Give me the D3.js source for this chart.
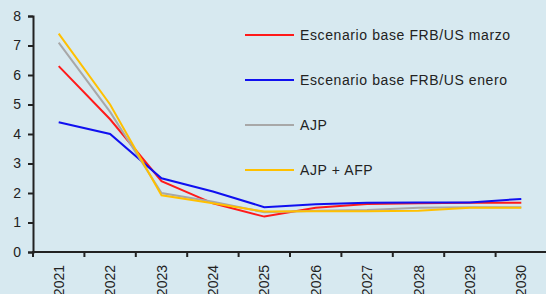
<!DOCTYPE html>
<html>
<head>
<meta charset="utf-8">
<script src="https://cdn.jsdelivr.net/npm/d3@7"></script>
<style>
  html, body { margin: 0; padding: 0; background: #d7e9f0; }
  svg { display: block; }
  text { font-family: "Liberation Sans", Arial, sans-serif; fill: #222; }
</style>
</head>
<body>
<div id="chart"></div>
<script>
  // years on the category axis
  const years = ["2021","2022","2023","2024","2025","2026","2027","2028","2029","2030"];

  // series values
  const frbMarzo = [6.3, 4.5, 2.4, 1.65, 1.2, 1.5, 1.63, 1.65, 1.67, 1.67];
  const frbEnero = [4.4, 4.0, 2.5, 2.05, 1.52, 1.62, 1.67, 1.68, 1.68, 1.8];
  const ajp      = [7.1, 4.75, 2.0, 1.7, 1.35, 1.4, 1.42, 1.5, 1.52, 1.52];
  const ajpAfp   = [7.4, 5.0, 1.92, 1.65, 1.37, 1.38, 1.38, 1.4, 1.5, 1.5];

  const yTicks = [0, 1, 2, 3, 4, 5, 6, 7, 8];

  const series = [
    {name: "Escenario base FRB/US marzo", values: frbMarzo, color: "#ff1a1a"},
    {name: "Escenario base FRB/US enero", values: frbEnero, color: "#1010f0"},
    {name: "AJP", values: ajp, color: "#a8a8a8"},
    {name: "AJP + AFP", values: ajpAfp, color: "#ffc000"}
  ];

  const W = 546, H = 294,
    plotLeft = 33, plotRight = 547, plotTop = 16, plotBottom = 252;

  const svg = d3.select("#chart").append("svg")
      .attr("width", W)
      .attr("height", H);

  svg.append("rect")
      .attr("width", W)
      .attr("height", H)
      .attr("fill", "#d7e9f0");

  const x = d3.scaleBand().domain(years).range([plotLeft, plotRight]);
  const y = d3.scaleLinear().domain([0, 8]).range([plotBottom, plotTop]);

  //y axis
  const yAxis = svg.append("g")
      .attr("transform", "translate(" + plotLeft + ",0)")
      .call(d3.axisLeft(y).tickValues(yTicks).tickSize(5).tickPadding(7).tickFormat(d3.format("d")));
  yAxis.select(".domain").attr("stroke", "#222").attr("stroke-width", 2);
  yAxis.selectAll(".tick line").attr("stroke", "#222").attr("stroke-width", 2);
  yAxis.selectAll(".tick text").style("font-size", "14px").attr("fill", "#222");

  //x axis, ticks between categories
  const xAxis = svg.append("g")
      .attr("transform", "translate(0," + plotBottom + ")");
  xAxis.append("line")
      .attr("x1", plotLeft - 1).attr("x2", plotRight)
      .attr("stroke", "#222").attr("stroke-width", 2);
  xAxis.selectAll(".xtick")
      .data(years.concat(["end"]))
      .enter().append("line")
        .attr("x1", (d, i) => plotLeft + i * x.step())
        .attr("x2", (d, i) => plotLeft + i * x.step())
        .attr("y1", 0).attr("y2", 5)
        .attr("stroke", "#222").attr("stroke-width", 2);
  xAxis.selectAll(".xlabel")
      .data(years)
      .enter().append("text")
        .text(d => d)
        .attr("transform", d => "translate(" + (x(d) + x.bandwidth() / 2 + 5) + ",13) rotate(-90)")
        .style("text-anchor", "end")
        .style("font-size", "14px");

  //lines
  const line = d3.line()
      .x((d, i) => x(years[i]) + x.bandwidth() / 2)
      .y(d => y(d));

  svg.selectAll(".series")
      .data(series)
      .enter().append("path")
        .attr("d", d => line(d.values))
        .attr("fill", "none")
        .attr("stroke", d => d.color)
        .attr("stroke-width", 2);

  //legend
  const legend = svg.selectAll(".legend")
      .data(series)
      .enter().append("g")
        .attr("transform", (d, i) => "translate(245," + (35 + i * 45) + ")");
  legend.append("line")
      .attr("x1", 0).attr("x2", 49)
      .attr("stroke", d => d.color)
      .attr("stroke-width", 2);
  legend.append("text")
      .text(d => d.name)
      .attr("x", 55)
      .attr("dy", "0.35em")
      .style("font-size", "14px")
      .style("letter-spacing", "0.6px");
</script>
</body>
</html>
